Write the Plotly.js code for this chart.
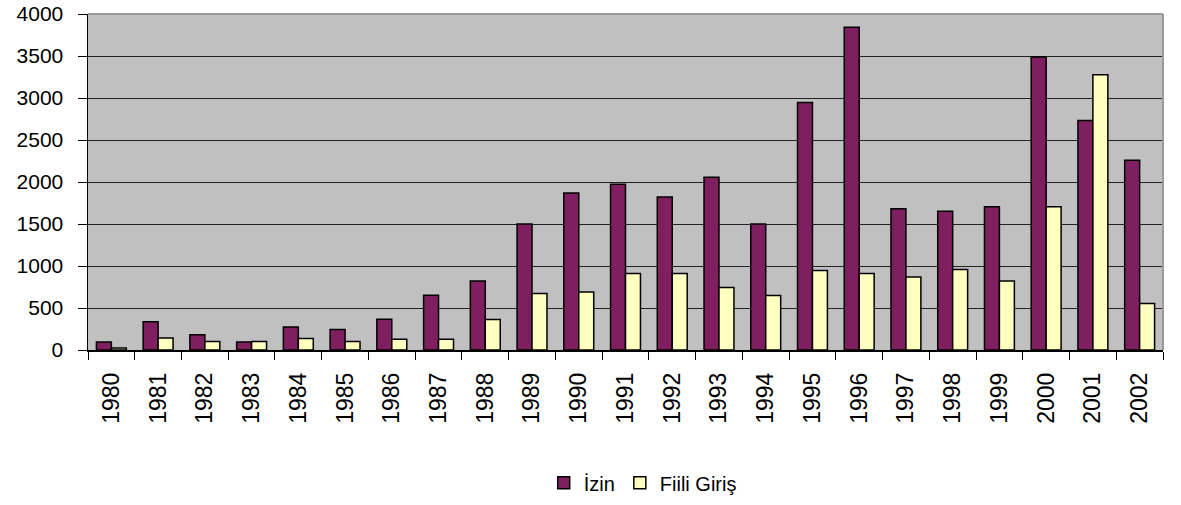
<!DOCTYPE html>
<html>
<head>
<meta charset="utf-8">
<script src="https://cdn.plot.ly/plotly-3.0.1.min.js"></script>
<style>html,body{margin:0;padding:0;background:#fff;}#chart{width:1181px;height:505px;}</style>
</head>
<body>
<div id="chart"></div>
<script>
const years = ["1980","1981","1982","1983","1984","1985","1986","1987","1988","1989","1990","1991","1992","1993","1994","1995","1996","1997","1998","1999","2000","2001","2002"];
const izin = [95, 335, 182, 95, 274, 243, 365, 653, 820, 1500, 1870, 1974, 1822, 2057, 1500, 2947, 3842, 1683, 1651, 1706, 3489, 2733, 2260];
const fiiliGiris = [25, 143, 102, 100, 136, 100, 128, 128, 363, 673, 689, 912, 912, 745, 649, 947, 912, 868, 959, 820, 1706, 3278, 554];
const seriesNames = ["İzin", "Fiili Giriş"];
const yTicks = [0, 500, 1000, 1500, 2000, 2500, 3000, 3500, 4000];

const font = "Liberation Sans, Arial, sans-serif";
const traces = [
  {type: "bar", name: seriesNames[0], x: years, y: izin,
   marker: {color: "#7F1F5F", line: {color: "#000", width: 1.5}}},
  {type: "bar", name: seriesNames[1], x: years, y: fiiliGiris,
   marker: {color: "#FFFFC0", line: {color: "#000", width: 1.5}}}
];
const layout = {
  width: 1181, height: 505,
  margin: {l: 88, r: 18, t: 14, b: 155, pad: 0},
  paper_bgcolor: "#fff",
  plot_bgcolor: "#C0C0C0",
  barmode: "group",
  bargap: 0.36,
  bargroupgap: 0,
  showlegend: true,
  legend: {orientation: "h", xref: "paper", x: 0.516, xanchor: "center",
           yref: "container", y: 0.044, yanchor: "middle",
           font: {family: font, size: 20, color: "#000"}, itemwidth: 30, tracegroupgap: 0},
  xaxis: {type: "category", tickson: "boundaries", ticks: "outside", ticklen: 8, tickwidth: 1,
          tickcolor: "#000", tickangle: -90, showline: true, linecolor: "#000", linewidth: 1.5,
          showgrid: false, automargin: false, range: [-0.5, 22.5], ticklabelstandoff: 12,
          tickfont: {family: font, size: 23, color: "#000"}},
  yaxis: {range: [0, 4000], tickvals: yTicks, ticktext: yTicks.map(String), ticks: "outside",
          ticklen: 9, tickwidth: 1, tickcolor: "#000", showline: true, linecolor: "#000", linewidth: 1.5,
          showgrid: true, gridcolor: "#222", gridwidth: 1, zeroline: false, automargin: false,
          ticklabelstandoff: 10,
          tickfont: {family: font, size: 21, color: "#000"}},
  shapes: [
    {type: "line", xref: "paper", yref: "paper", x0: 0, x1: 1, y0: 1, y1: 1, line: {color: "#999", width: 2}},
    {type: "line", xref: "paper", yref: "paper", x0: 1, x1: 1, y0: 0, y1: 1, line: {color: "#999", width: 2}}
  ]
};
Plotly.newPlot("chart", traces, layout, {displayModeBar: false, staticPlot: true});
</script>
</body>
</html>
